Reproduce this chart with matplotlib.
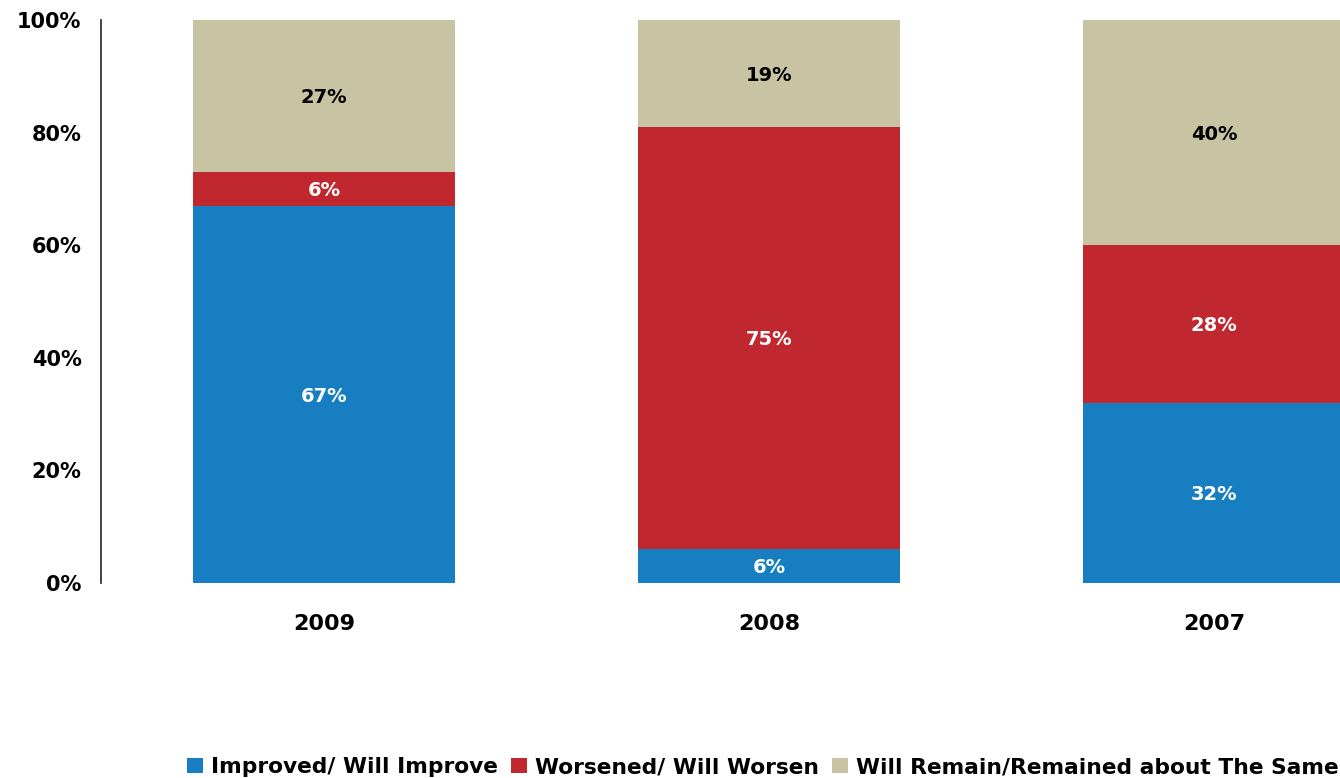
import numpy as np
import matplotlib.pyplot as plt

# data
years = ['2009', '2008', '2007']
improved = [67, 6, 32]
worsened = [6, 75, 28]
same = [27, 19, 40]
series_names = ['Improved/ Will Improve', 'Worsened/ Will Worsen',
                'Will Remain/Remained about The Same']
colors = ['#177ec1', '#c1272f', '#c8c3a2']
label_colors = ['white', 'white', 'black']

plt.rcParams['font.family'] = ['DejaVu Sans']
plt.rcParams['font.weight'] = 'bold'

fig = plt.figure(figsize=(13.4, 7.78), dpi=100)
ax = fig.add_axes([101 / 1340, 195 / 778, 1 - 101 / 1340, 563 / 778])

x = np.arange(len(years))
bottom = np.zeros(len(years))
for vals, name, c, lc in zip([improved, worsened, same], series_names, colors, label_colors):
    bars = ax.bar(x, vals, width=0.589, bottom=bottom, color=c, label=name)
    for xi, b, v in zip(x, bottom, vals):
        ax.text(xi, b + v / 2 - 0.3, f'{v}%', ha='center', va='center',
                color=lc, fontsize=14, fontweight='bold')
    bottom += np.array(vals)

ax.set_xlim(-0.501, 2.283)
ax.set_ylim(0, 100)
ax.set_yticks([0, 20, 40, 60, 80, 100])
ax.set_yticklabels(['0%', '20%', '40%', '60%', '80%', '100%'])
ax.set_xticks(x)
ax.set_xticklabels(years)
ax.tick_params(axis='both', length=0)
ax.tick_params(axis='y', pad=14, labelsize=15)
ax.tick_params(axis='x', pad=22, labelsize=16)
for s in ['top', 'right', 'bottom']:
    ax.spines[s].set_visible(False)
ax.spines['left'].set_linewidth(1.2)
ax.spines['left'].set_color('#222222')

fig.legend(loc='lower right', bbox_to_anchor=(1.009, -0.016), ncol=3, frameon=False,
           fontsize=15.7, handlelength=0.7, handleheight=0.7, handletextpad=0.4,
           columnspacing=0.6, borderaxespad=0.2)

plt.savefig('out.png', dpi=100)
